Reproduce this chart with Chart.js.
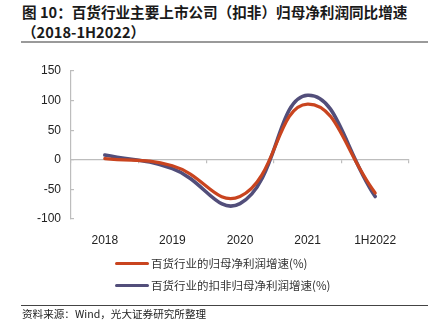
<!DOCTYPE html>
<html>
<head>
<meta charset="utf-8">
<script src="https://cdn.jsdelivr.net/npm/chart.js@4/dist/chart.umd.min.js"></script>
<style>
  body { margin: 0; background: #fff; }
  #wrap { position: relative; width: 440px; height: 336px; overflow: hidden; font-family: "Noto Sans CJK SC", sans-serif; }
  #title { position: absolute; left: 22px; top: 2px; font-size: 14.6px; font-weight: bold; line-height: 20px; color: #1a1a1a; }
  #rule { position: absolute; left: 21px; top: 41px; width: 407px; height: 2px; background: #9a9a9a; }
  #chartbox { position: absolute; left: 0; top: 0; width: 440px; height: 336px; }
  #legend { position: absolute; left: 115px; top: 254px; font-size: 11.5px; color: #333; }
  .item { height: 22px; line-height: 18px; white-space: nowrap; }
  .swatch { display: inline-block; width: 34px; height: 3px; border-radius: 2px; vertical-align: middle; margin-right: 2px; position: relative; top: -1px; }
  #foot { position: absolute; left: 21px; top: 305px; width: 407px; height: 1px; background: #444; }
  #src { position: absolute; left: 22px; top: 306px; font-size: 10.6px; color: #222; }
</style>
</head>
<body>
<div id="wrap">
  <div id="title">图 10：百货行业主要上市公司（扣非）归母净利润同比增速<br>（2018-1H2022）</div>
  <div id="rule"></div>
  <div id="chartbox"><canvas id="myChart" width="440" height="336"></canvas></div>
  <div id="legend"></div>
  <div id="foot"></div>
  <div id="src">资料来源：Wind，光大证券研究所整理</div>
</div>
<script>
const categories = ["2018", "2019", "2020", "2021", "1H2022"];
const netProfitGrowth = [2, -10, -62, 94, -56];
const deductedProfitGrowth = [8, -15, -74, 109, -62];
const seriesNames = ["百货行业的归母净利润增速(%)", "百货行业的扣非归母净利润增速(%)"];
const yTicks = [150, 100, 50, 0, -50, -100];

const RED = "#c9441f";
const BLUE = "#524e7a";
const AXIS = "#bdbdbd";

const datasets = [
    { label: seriesNames[0], data: netProfitGrowth, borderColor: RED, borderWidth: 3.2 },
    { label: seriesNames[1], data: deductedProfitGrowth, borderColor: BLUE, borderWidth: 3.6 }
].map(d => Object.assign(d, {
    fill: false, pointRadius: 0, tension: 0.45, borderCapStyle: 'round', xAxisID: 'x'
}));
// red series on top where the two lines cross
datasets[0].order = 0;
datasets[1].order = 1;

const tickFont = { family: "'Liberation Sans', Arial, sans-serif", size: 12 };

new Chart(document.getElementById('myChart').getContext('2d'), {
    type: 'line',
    data: { labels: categories, datasets: datasets },
    options: {
        responsive: false,
        animation: false,
        layout: { padding: { left: 0, top: 71, right: 31, bottom: 91 } },
        plugins: { legend: { display: false }, tooltip: { enabled: false } },
        scales: {
            x: {
                offset: true,
                grid: { display: false },
                border: { display: false },
                ticks: { color: "#222", font: tickFont, padding: 6 },
                afterFit: s => { s.height = 26; }
            },
            // zero line with its category tick marks
            x0: {
                type: 'category',
                labels: categories,
                offset: true,
                position: { y: 0 },
                grid: { offset: true, drawOnChartArea: false, drawTicks: true, tickLength: 3, color: AXIS, lineWidth: 1.2 },
                border: { display: true, color: AXIS, width: 1.2 },
                ticks: { display: false }
            },
            y: {
                min: -100,
                max: 150,
                afterBuildTicks: s => { s.ticks = yTicks.map(v => ({ value: v })); },
                // negative length turns the tick marks inward
                grid: { drawOnChartArea: false, drawTicks: true, tickLength: -3, color: AXIS, lineWidth: 1.2 },
                border: { display: true, color: AXIS, width: 1.2 },
                ticks: { color: "#222", font: tickFont, padding: 13 },
                afterFit: s => { s.width = 71; }
            }
        }
    }
});

// legend stacked on the left, one series per row
const legend = document.getElementById('legend');
datasets.forEach(d => {
    const row = document.createElement('div');
    row.className = 'item';
    const sw = document.createElement('span');
    sw.className = 'swatch';
    sw.style.background = d.borderColor;
    row.appendChild(sw);
    row.appendChild(document.createTextNode(d.label));
    legend.appendChild(row);
});
</script>
</body>
</html>
